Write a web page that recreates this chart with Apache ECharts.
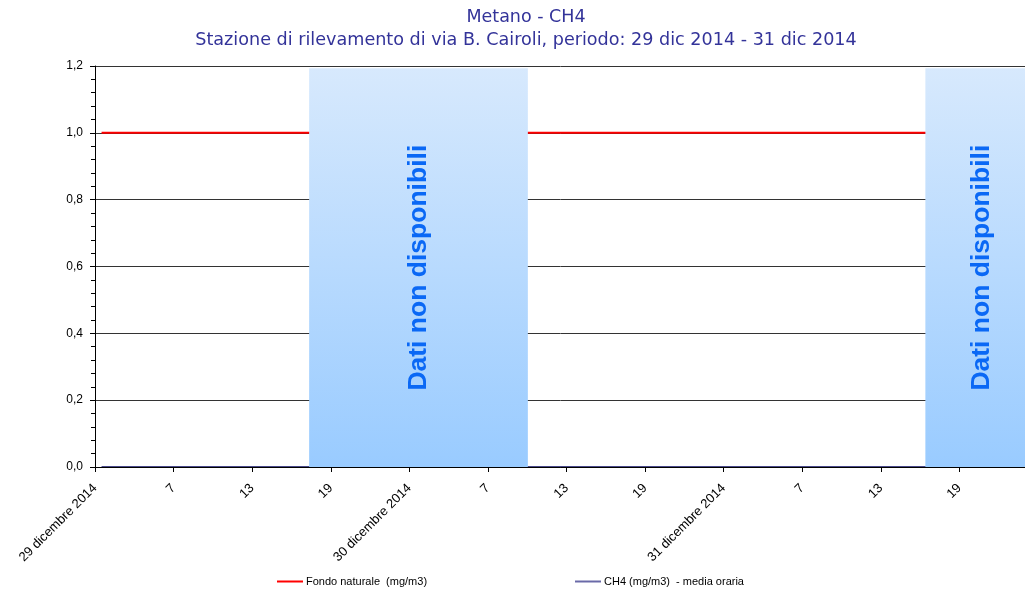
<!DOCTYPE html>
<html>
<head>
<meta charset="utf-8">
<title>Metano - CH4</title>
<script src="https://cdn.jsdelivr.net/npm/echarts@6/dist/echarts.min.js"></script>
<style>
  html, body { margin: 0; padding: 0; background: #fff; }
  #chart { width: 1025px; height: 595px; }
</style>
</head>
<body>
<div id="chart"></div>
<script>
// giorni e ore (medie orarie, 24 per giorno)
const days = ['29/12/2014', '30/12/2014', '31/12/2014']
const hours = ['01', '02', '03', '04', '05', '06', '07', '08', '09', '10', '11', '12',
  '13', '14', '15', '16', '17', '18', '19', '20', '21', '22', '23', '24']

// etichette asse x, una ogni 6 ore
const tickLabels = ['29 dicembre 2014', '7', '13', '19',
  '30 dicembre 2014', '7', '13', '19',
  '31 dicembre 2014', '7', '13', '19']

// fondo naturale (mg/m3)
const fondo = [
  1.0, 1.0, 1.0, 1.0, 1.0, 1.0, 1.0, 1.0, 1.0, 1.0, 1.0, 1.0, 1.0, 1.0, 1.0, 1.0, 1.0, 1.0, 1.0, 1.0, 1.0, 1.0, 1.0, 1.0,
  1.0, 1.0, 1.0, 1.0, 1.0, 1.0, 1.0, 1.0, 1.0, 1.0, 1.0, 1.0, 1.0, 1.0, 1.0, 1.0, 1.0, 1.0, 1.0, 1.0, 1.0, 1.0, 1.0, 1.0,
  1.0, 1.0, 1.0, 1.0, 1.0, 1.0, 1.0, 1.0, 1.0, 1.0, 1.0, 1.0, 1.0, 1.0, 1.0, 1.0, 1.0, 1.0, 1.0, 1.0, 1.0, 1.0, 1.0, 1.0
]

// CH4 media oraria (mg/m3), null = dato mancante
const ch4 = [
  0, 0, 0, 0, 0, 0, 0, 0, 0, 0, 0, 0, 0, 0, 0, 0, 0, null, null, null, null, null, null, null,
  null, null, null, null, null, null, null, null, 0, 0, 0, 0, 0, 0, 0, 0, 0, 0, 0, 0, 0, 0, 0, 0,
  0, 0, 0, 0, 0, 0, 0, 0, 0, 0, 0, 0, 0, 0, 0, 0, null, null, null, null, null, null, null, null
]

// periodi senza dati, in ore dall'inizio del 29/12
const gapStart = [16.35, 63.4]
const gapEnd = [33.05, 72]

const categories = days.flatMap(d => hours.map(h => d + ' ' + h))

const titleColor = '#333399'
const axisFont = 'Liberation Sans, Arial, sans-serif'
const bandTop = 1.193

const chart = echarts.init(document.getElementById('chart'))

const option = {
  animation: false,
  backgroundColor: '#fff',
  graphic: [
    {
      type: 'text',
      x: 526,
      y: 17,
      style: {
        text: 'Metano - CH4',
        fill: titleColor,
        font: '17.5px "DejaVu Sans", Tahoma, sans-serif',
        textAlign: 'center',
        textVerticalAlign: 'middle'
      }
    },
    {
      type: 'text',
      x: 526,
      y: 40,
      style: {
        text: 'Stazione di rilevamento di via B. Cairoli, periodo: 29 dic 2014 - 31 dic 2014',
        fill: titleColor,
        font: '17.6px "DejaVu Sans", Tahoma, sans-serif',
        textAlign: 'center',
        textVerticalAlign: 'middle'
      }
    }
  ],
  legend: [
    {
      left: 277,
      top: 576,
      padding: 0,
      icon: 'rect',
      itemWidth: 26,
      itemHeight: 2,
      data: ['Fondo naturale  (mg/m3)'],
      textStyle: { color: '#000', fontSize: 11, fontFamily: axisFont, padding: [0, 0, 0, -2] }
    },
    {
      left: 575,
      top: 576,
      padding: 0,
      icon: 'rect',
      itemWidth: 26,
      itemHeight: 2,
      data: ['CH4 (mg/m3)  - media oraria'],
      textStyle: { color: '#000', fontSize: 11, fontFamily: axisFont, padding: [0, 0, 0, -2] }
    }
  ],
  grid: {
    left: 95,
    width: 943,
    top: 66,
    height: 401,
    containLabel: false,
    outerBoundsMode: 'none'
  },
  xAxis: [
    {
      type: 'category',
      data: categories,
      boundaryGap: true,
      show: false
    },
    {
      type: 'value',
      position: 'bottom',
      min: 0,
      max: 72,
      interval: 6,
      z: 10,
      axisLine: { show: true, onZero: false, lineStyle: { color: '#000', width: 1 } },
      axisTick: { show: true, length: 5, lineStyle: { color: '#000' } },
      splitLine: { show: false },
      axisLabel: {
        rotate: 45,
        margin: 19,
        color: '#000',
        fontSize: 13,
        fontFamily: axisFont,
        showMaxLabel: false,
        formatter: v => tickLabels[v / 6] || ''
      }
    }
  ],
  yAxis: {
    type: 'value',
    min: 0,
    max: 1.2,
    interval: 0.2,
    axisLine: { show: true, lineStyle: { color: '#000' } },
    axisTick: { show: true, length: 5, lineStyle: { color: '#000' } },
    minorTick: { show: true, splitNumber: 5, length: 4, lineStyle: { color: '#000' } },
    splitLine: { show: true, lineStyle: { color: '#333', width: 1 } },
    axisLabel: {
      margin: 12,
      color: '#000',
      fontSize: 12,
      fontFamily: axisFont,
      formatter: v => v.toFixed(1).replace('.', ',')
    }
  },
  series: [
    {
      name: 'Fondo naturale  (mg/m3)',
      type: 'line',
      xAxisIndex: 0,
      data: fondo,
      showSymbol: false,
      symbol: 'none',
      lineStyle: { color: '#ff0000', width: 2 },
      itemStyle: { color: '#ff0000' },
      z: 2
    },
    {
      name: 'CH4 (mg/m3)  - media oraria',
      type: 'line',
      xAxisIndex: 0,
      data: ch4,
      showSymbol: false,
      symbol: 'none',
      connectNulls: false,
      lineStyle: { color: '#4a4a8a', width: 2 },
      itemStyle: { color: '#6a6aa8' },
      z: 2
    },
    {
      name: 'nd',
      type: 'line',
      xAxisIndex: 1,
      data: [],
      silent: true,
      z: 5,
      markArea: {
        silent: true,
        z: 8,
        itemStyle: {
          color: {
            type: 'linear', x: 0, y: 0, x2: 0, y2: 1,
            colorStops: [
              { offset: 0, color: '#d7e9fd' },
              { offset: 1, color: '#99cbff' }
            ]
          }
        },
        label: {
          show: true,
          position: 'inside',
          rotate: 90,
          color: '#0a68f5',
          fontSize: 26.5,
          fontWeight: 'bold',
          fontFamily: axisFont,
          formatter: 'Dati non disponibili'
        },
        data: gapStart.map((s, i) => [{ xAxis: s, yAxis: 0 }, { xAxis: gapEnd[i], yAxis: bandTop }])
      }
    }
  ]
}

chart.setOption(option)
</script>
</body>
</html>
